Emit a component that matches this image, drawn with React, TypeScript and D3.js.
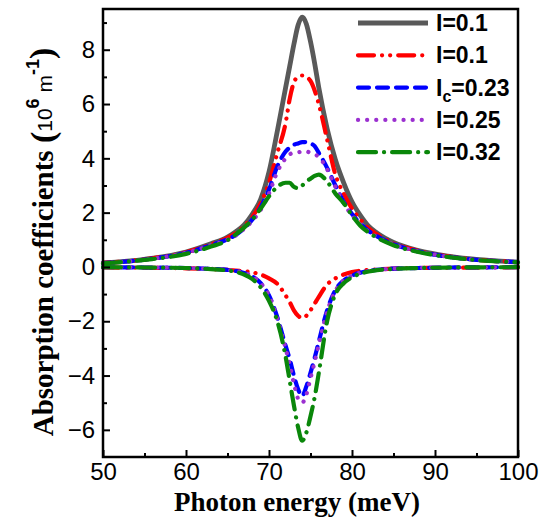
import React, { useRef, useEffect } from 'react'
import * as d3 from 'd3'

// Absorption coefficients vs photon energy.
const energy = [50, 55, 60, 63, 65, 66, 67, 68, 69, 70, 71, 72, 72.5, 73, 73.5, 74, 74.5, 75, 75.5, 76, 77, 78, 79, 80, 81, 82, 83, 85, 88, 92, 100]

const grayUp = [0.15, 0.28, 0.55, 0.85, 1.1, 1.3, 1.55, 1.95, 2.5, 3.5, 5.0, 6.6, 7.4, 8.2, 8.9, 9.2, 8.95, 8.3, 7.5, 6.6, 5.1, 3.95, 3.1, 2.4, 1.9, 1.5, 1.25, 0.9, 0.6, 0.38, 0.18]

const redUp = [0.15, 0.28, 0.54, 0.83, 1.07, 1.25, 1.5, 1.85, 2.35, 3.1, 4.2, 5.3, 6.2, 6.8, 7.0, 7.05, 7.0, 6.85, 6.5, 6.0, 4.7, 3.4, 2.7, 2.15, 1.75, 1.42, 1.2, 0.87, 0.59, 0.37, 0.18]
const redLow = [-0.02, -0.03, -0.05, -0.08, -0.11, -0.13, -0.16, -0.2, -0.28, -0.42, -0.62, -1.05, -1.3, -1.6, -1.8, -1.88, -1.8, -1.6, -1.35, -1.1, -0.65, -0.42, -0.28, -0.19, -0.14, -0.11, -0.09, -0.06, -0.04, -0.03, -0.01]

const blueUp = [0.14, 0.27, 0.52, 0.8, 1.02, 1.18, 1.42, 1.75, 2.2, 2.85, 3.7, 4.25, 4.4, 4.5, 4.55, 4.6, 4.6, 4.55, 4.45, 4.2, 3.65, 3.0, 2.4, 1.95, 1.6, 1.33, 1.13, 0.84, 0.57, 0.36, 0.18]
const blueLow = [-0.01, -0.02, -0.04, -0.07, -0.11, -0.15, -0.22, -0.35, -0.6, -1.05, -1.85, -2.9, -3.4, -4.0, -4.5, -4.75, -4.4, -3.9, -3.35, -2.75, -1.6, -0.85, -0.5, -0.32, -0.21, -0.15, -0.11, -0.06, -0.04, -0.02, -0.01]

const purpleUp = [0.14, 0.27, 0.52, 0.8, 1.0, 1.16, 1.4, 1.7, 2.1, 2.7, 3.5, 4.0, 4.15, 4.2, 4.22, 4.25, 4.25, 4.2, 4.15, 4.05, 3.6, 2.95, 2.35, 1.9, 1.57, 1.3, 1.1, 0.83, 0.57, 0.36, 0.18]
const purpleLow = [-0.01, -0.02, -0.04, -0.07, -0.11, -0.15, -0.22, -0.35, -0.6, -1.05, -1.9, -3.0, -3.6, -4.3, -4.85, -5.0, -4.7, -4.1, -3.5, -2.85, -1.65, -0.88, -0.5, -0.32, -0.21, -0.15, -0.11, -0.06, -0.04, -0.02, -0.01]

const greenUp = [0.13, 0.26, 0.48, 0.75, 0.98, 1.2, 1.45, 1.75, 2.15, 2.6, 2.95, 3.1, 3.1, 2.95, 2.9, 3.0, 3.15, 3.25, 3.35, 3.4, 3.15, 2.7, 2.35, 1.9, 1.52, 1.27, 1.08, 0.8, 0.55, 0.35, 0.17]
const greenLow = [-0.01, -0.02, -0.04, -0.08, -0.13, -0.18, -0.28, -0.45, -0.75, -1.25, -2.0, -3.3, -4.2, -5.1, -5.9, -6.4, -6.1, -5.5, -4.8, -3.9, -2.0, -1.0, -0.6, -0.38, -0.25, -0.17, -0.12, -0.07, -0.04, -0.02, -0.01]

const xTicks = [50, 60, 70, 80, 90, 100]
const xMinor = [55, 65, 75, 85, 95]
const yTicks = [-6, -4, -2, 0, 2, 4, 6, 8]
const yMinor = [-5, -3, -1, 1, 3, 5, 7, 9]

type Series = { key: string; curves: number[][]; color: string; width: number; dash: string | null; cap: string }

const series: Series[] = [
  { key: 'I=0.1', curves: [grayUp], color: '#595959', width: 4.8, dash: null, cap: 'butt' },
  { key: 'I=0.1 ', curves: [redUp, redLow], color: '#ff0000', width: 4.2, dash: '16,8,0.1,8,0.1,8', cap: 'round' },
  { key: 'Ic=0.23', curves: [blueUp, blueLow], color: '#0000ff', width: 4.2, dash: '11,8', cap: 'round' },
  { key: 'I=0.25', curves: [purpleUp, purpleLow], color: '#9b30d0', width: 4.2, dash: '0.1,9', cap: 'round' },
  { key: 'I=0.32', curves: [greenUp, greenLow], color: '#0a870a', width: 4.2, dash: '18,8,0.1,8', cap: 'round' },
]

export default function App() {
  const svgRef = useRef<SVGSVGElement | null>(null)

  useEffect(() => {
    const svg = d3.select(svgRef.current)
    svg.selectAll('*').remove()

    const left = 103, right = 518, top = 9, bottom = 457
    const x = d3.scaleLinear().domain([50, 100]).range([left, right])
    const y = d3.scaleLinear().domain([-7, 9.5]).range([bottom, top])
    const sans = "'Liberation Sans', Arial, sans-serif"
    const serif = "'Liberation Serif', 'Times New Roman', serif"

    const line = d3
      .line<number>()
      .x((_, i) => x(energy[i]))
      .y((d) => y(d))
      .curve(d3.curveMonotoneX)

    const plot = svg.append('g')
    series.forEach((s) => {
      s.curves.forEach((vals) => {
        plot.append('path')
          .datum(vals)
          .attr('d', line)
          .attr('fill', 'none')
          .attr('stroke', s.color)
          .attr('stroke-width', s.width)
          .attr('stroke-linecap', s.cap)
          .attr('stroke-linejoin', 'round')
          .attr('stroke-dasharray', s.dash)
      })
    })

    // axes (ticks pointing inward)
    const styleAxis = (g: any) => {
      g.select('.domain').remove()
      g.selectAll('.tick line').attr('stroke', '#000').attr('stroke-width', 2)
      g.selectAll('.tick text').attr('fill', '#000').style('font-family', sans).style('font-size', '24px')
    }
    svg.append('g')
      .attr('transform', `translate(0, ${bottom})`)
      .call(d3.axisBottom(x).tickValues(xTicks).tickSizeInner(-7).tickSizeOuter(0).tickPadding(6).tickFormat(d3.format('d')))
      .call(styleAxis)
    svg.append('g')
      .attr('transform', `translate(0, ${bottom})`)
      .call(d3.axisBottom(x).tickValues(xMinor).tickSizeInner(-4).tickSizeOuter(0).tickFormat(() => ''))
      .call(styleAxis)
    svg.append('g')
      .attr('transform', `translate(${left}, 0)`)
      .call(d3.axisLeft(y).tickValues(yTicks).tickSizeInner(-7).tickSizeOuter(0).tickPadding(8).tickFormat(d3.format('d')))
      .call(styleAxis)
    svg.append('g')
      .attr('transform', `translate(${left}, 0)`)
      .call(d3.axisLeft(y).tickValues(yMinor.filter((v) => v < 9.5)).tickSizeInner(-4).tickSizeOuter(0).tickFormat(() => ''))
      .call(styleAxis)

    svg.append('rect')
      .attr('x', left).attr('y', top)
      .attr('width', right - left).attr('height', bottom - top)
      .attr('fill', 'none').attr('stroke', '#000').attr('stroke-width', 2.5)

    // axis titles
    svg.append('text')
      .attr('x', 297)
      .attr('y', 511)
      .attr('text-anchor', 'middle')
      .style('font-family', serif).style('font-weight', 'bold').style('font-size', '27px')
      .text('Photon energy (meV)')

    const yt = svg.append('text')
      .attr('transform', `translate(53, 242) rotate(-90)`)
      .attr('text-anchor', 'middle')
      .style('font-family', serif).style('font-weight', 'bold').style('font-size', '29px')
    yt.append('tspan').text('Absorption coefficients ')
    yt.append('tspan').style('font-size', '34px').attr('dy', 1).text('(')
    yt.append('tspan').style('font-family', sans).style('font-weight', 'normal').style('font-size', '21px').attr('dy', -2).text('10')
    yt.append('tspan').style('font-family', sans).style('font-size', '18px').attr('dy', -13).text('6')
    yt.append('tspan').style('font-family', sans).style('font-weight', 'normal').style('font-size', '21px').attr('dy', 13).text(' m')
    yt.append('tspan').style('font-family', sans).style('font-size', '18px').attr('dy', -13).text('-1')
    yt.append('tspan').style('font-size', '34px').attr('dy', 14).text(')')

    // legend
    const lg = svg.append('g')
    series.forEach((s, i) => {
      const ly = 23 + i * 32.3
      lg.append('line')
        .attr('x1', 358).attr('x2', 428)
        .attr('y1', ly).attr('y2', ly)
        .attr('stroke', s.color)
        .attr('stroke-width', s.width)
        .attr('stroke-linecap', s.cap)
        .attr('stroke-dasharray', s.dash)
      const t = lg.append('text')
        .attr('x', 436).attr('y', ly + 8)
        .style('font-family', sans).style('font-weight', 'bold').style('font-size', '23px')
      if (s.key.startsWith('Ic')) {
        t.append('tspan').text('I')
        t.append('tspan').style('font-size', '16px').attr('dy', 6).text('c')
        t.append('tspan').attr('dy', -6).text(s.key.slice(2))
      } else {
        t.text(s.key.trim())
      }
    })
  }, [])

  return (
    <svg
      ref={svgRef}
      width={543}
      height={526}
      viewBox="0 0 543 526"
      style={{ position: 'absolute', left: 0, top: 0, background: '#fff' }}
    />
  )
}
